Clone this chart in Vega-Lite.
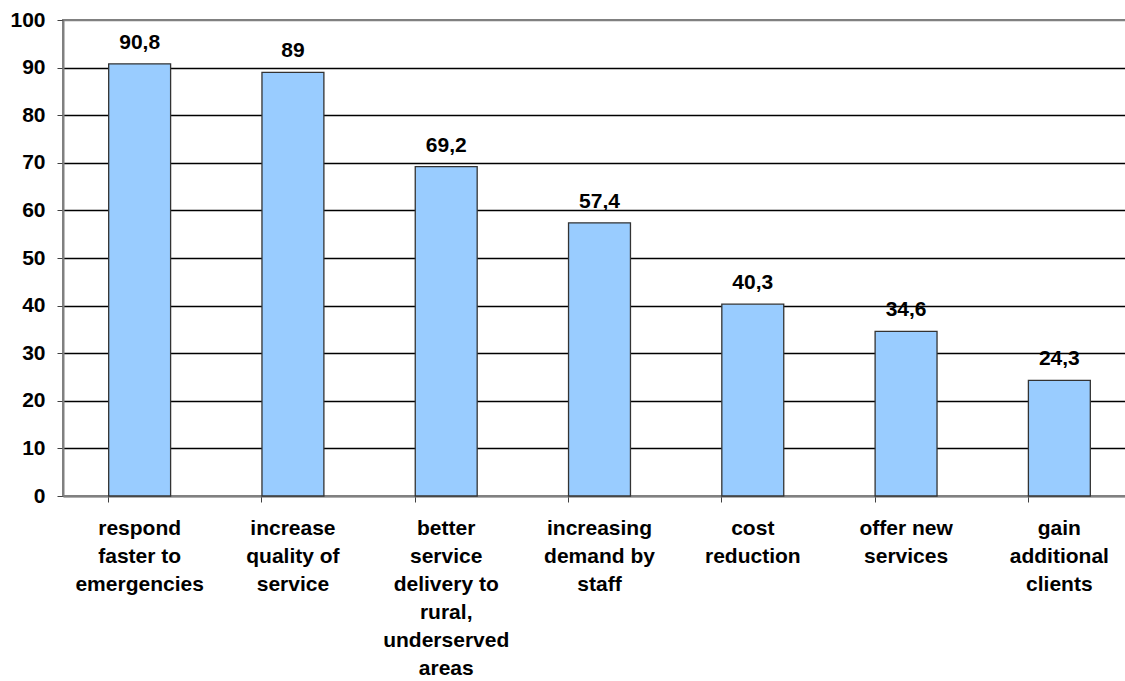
{
  "$schema": "https://vega.github.io/schema/vega-lite/v6.json",
  "autosize": {"type": "none"},
  "padding": {"left": 63, "top": 20, "right": 0, "bottom": 185},
  "width": 1073,
  "height": 476,
  "background": "white",
  "config": {
    "font": "Liberation Sans",
    "view": {"stroke": "#808080", "strokeWidth": 2}
  },
  "data": {
    "values": [
      {"category": "respond|faster to|emergencies", "value": 90.8, "label": "90,8"},
      {"category": "increase|quality of|service", "value": 89, "label": "89"},
      {"category": "better|service|delivery to|rural,|underserved|areas", "value": 69.2, "label": "69,2"},
      {"category": "increasing|demand by|staff", "value": 57.4, "label": "57,4"},
      {"category": "cost|reduction", "value": 40.3, "label": "40,3"},
      {"category": "offer new|services", "value": 34.6, "label": "34,6"},
      {"category": "gain|additional|clients", "value": 24.3, "label": "24,3"}
    ]
  },
  "encoding": {
    "x": {
      "field": "category",
      "type": "nominal",
      "sort": null,
      "scale": {"paddingInner": 0.596, "paddingOuter": 0.298},
      "axis": {
        "title": null,
        "labelAngle": 0,
        "labelExpr": "split(datum.label, '|')",
        "labelFont": "Liberation Sans",
        "labelFontSize": 21,
        "labelFontWeight": "bold",
        "labelColor": "black",
        "labelLineHeight": 28,
        "labelBaseline": "top",
        "labelPadding": 15,
        "labelLimit": 300,
        "bandPosition": 0,
        "ticks": true,
        "tickSize": 6,
        "tickColor": "#404040",
        "domainColor": "#808080",
        "domainWidth": 2,
        "grid": false
      }
    },
    "y": {
      "field": "value",
      "type": "quantitative",
      "scale": {"domain": [0, 100], "nice": false},
      "axis": {
        "title": null,
        "values": [0, 10, 20, 30, 40, 50, 60, 70, 80, 90, 100],
        "labelFont": "Liberation Sans",
        "labelFontSize": 21,
        "labelFontWeight": "bold",
        "labelColor": "black",
        "labelPadding": 12,
        "tickSize": 6,
        "tickColor": "#404040",
        "domainColor": "#808080",
        "domainWidth": 2,
        "grid": true,
        "gridColor": {"condition": {"test": "datum.value === 100 || datum.value === 0", "value": "#808080"}, "value": "black"},
        "gridOpacity": 1,
        "gridWidth": 1.3
      }
    }
  },
  "layer": [
    {
      "mark": {"type": "bar", "fill": "#99CCFF", "stroke": "#333333", "strokeWidth": 1.3}
    },
    {
      "mark": {"type": "text", "baseline": "bottom", "dy": -11, "fontSize": 21, "fontWeight": "bold", "font": "Liberation Sans", "color": "black"},
      "encoding": {"text": {"field": "label"}}
    }
  ]
}
